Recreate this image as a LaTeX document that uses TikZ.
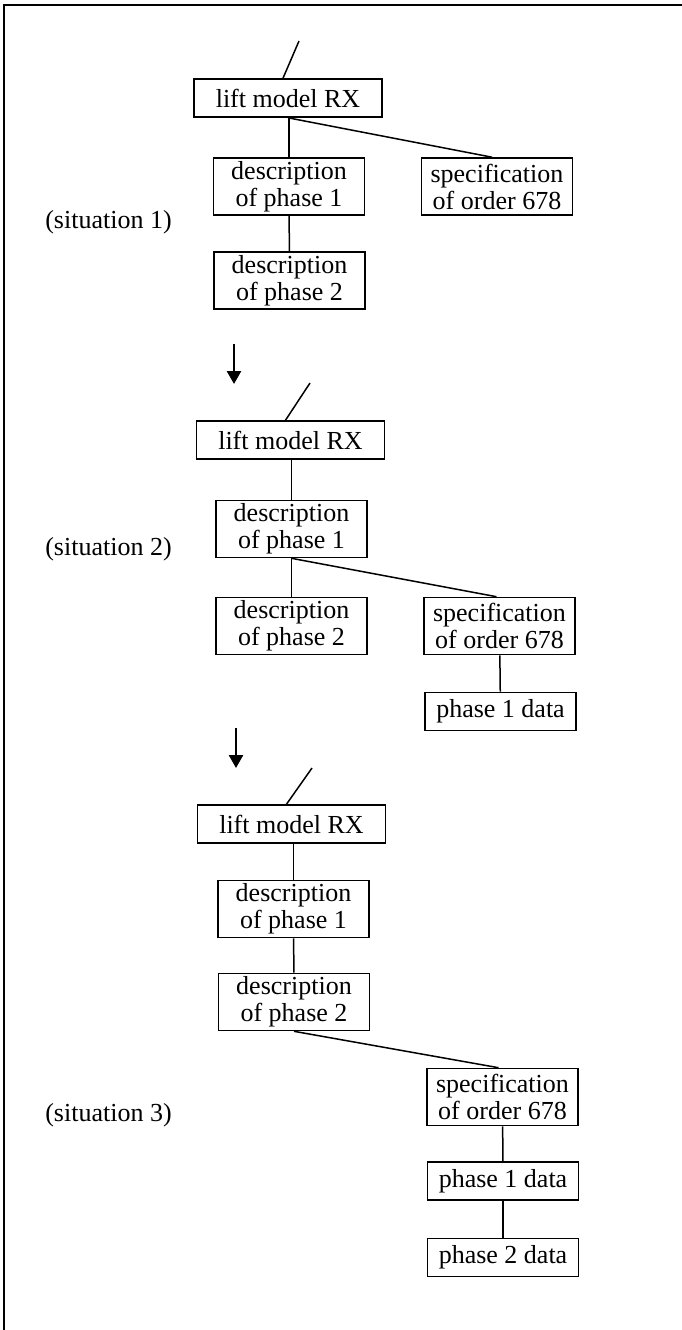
\documentclass[tikz,border=0pt]{standalone}
\usepackage{fontspec}
\setmainfont{Liberation Serif}
\usetikzlibrary{arrows.meta}
\begin{document}
\begin{tikzpicture}[x=1pt,y=-1pt,
  textfont/.style={font=\fontsize{26}{27}\selectfont},
  box/.style={draw, line width=1.6pt, inner sep=0pt, minimum width=151pt,
    align=center, textfont},
  onebox/.style={box, minimum height=38pt},
  twobox/.style={box, minimum height=57pt},
  liftbox/.style={onebox, minimum width=188pt},
  link/.style={line width=1.5pt},
  nextstate/.style={line width=2.6pt, -{Triangle[length=13pt,width=14pt]}},
  tag/.style={textfont, inner sep=0pt}
]
\useasboundingbox (0,0) rectangle (682,1330);

% frame along the top and left edges
\draw[line width=1.6pt] (682,5) -- (4,5) -- (4,1330);

% ---------- situation 1 ----------
\node[liftbox] (lift1) at (288,98) {lift model RX};
\node[twobox] (d11) at (289,186.5) {description\\of phase 1};
\node[twobox] (s1) at (497,186.5) {specification\\of order 678};
\node[twobox] (d12) at (289.5,280.5) {description\\of phase 2};
\node[tag] (sit1) at (108.5,222) {(situation 1)};
\coordinate (up1) at (299,41);
\draw[link] ([xshift=-5pt]lift1.north) -- (up1);
\draw[link] (lift1.south -| d11.north) -- (d11.north);
\draw[link] (lift1.south) -- ([xshift=-5pt]s1.north);
\draw[link] (d11) -- (d12);

% transition 1 -> 2
\coordinate (a1s) at (234,344);
\coordinate (a1e) at (234,384);
\draw[nextstate] (a1s) -- (a1e);

% ---------- situation 2 ----------
\node[liftbox] (lift2) at (290.5,440) {lift model RX};
\node[twobox] (d21) at (291.5,529) {description\\of phase 1};
\node[twobox] (d22) at (291.5,626) {description\\of phase 2};
\node[twobox] (s2) at (499.5,626) {specification\\of order 678};
\node[onebox] (p21) at (500.5,711.5) {phase 1 data};
\node[tag] (sit2) at (108.5,549) {(situation 2)};
\coordinate (up2) at (310,383);
\draw[link] ([xshift=-5pt]lift2.north) -- (up2);
\draw[link] (lift2.south -| d21.north) -- (d21.north);
\draw[link] (d21) -- (d22);
\draw[link] (d21.south) -- ([xshift=-3pt]s2.north);
\draw[link] (s2) -- (p21);

% transition 2 -> 3
\coordinate (a2s) at (236,728);
\coordinate (a2e) at (236,768);
\draw[nextstate] (a2s) -- (a2e);

% ---------- situation 3 ----------
\node[liftbox] (lift3) at (291.5,824) {lift model RX};
\node[twobox] (d31) at (293.5,909) {description\\of phase 1};
\node[twobox] (d32) at (294,1002) {description\\of phase 2};
\node[twobox] (s3) at (502.5,1097) {specification\\of order 678};
\node[onebox] (p31) at (503,1181) {phase 1 data};
\node[onebox] (p32) at (503,1257.5) {phase 2 data};
\node[tag] (sit3) at (108.5,1115) {(situation 3)};
\coordinate (up3) at (312,768);
\draw[link] ([xshift=-5pt]lift3.north) -- (up3);
\draw[link] (lift3.south -| d31.north) -- (d31.north);
\draw[link] (d31) -- (d32);
\draw[link] (d32.south) -- ([xshift=-4pt]s3.north);
\draw[link] (s3) -- (p31);
\draw[link] (p31) -- (p32);
\end{tikzpicture}
\end{document}
